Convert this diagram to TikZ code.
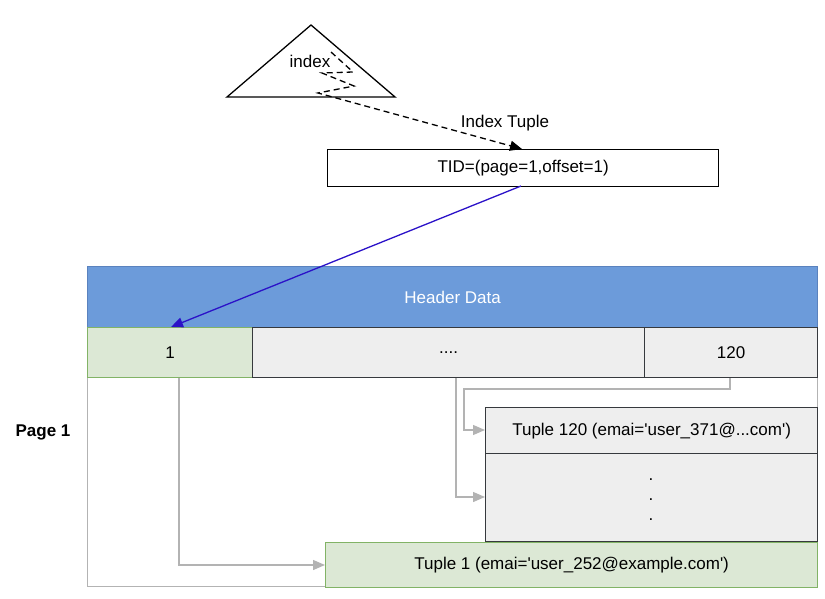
\documentclass[tikz,border=0pt]{standalone}
\usepackage{fontspec}
\setmainfont{Liberation Sans}
\usetikzlibrary{arrows.meta}
\definecolor{hdrfill}{RGB}{108,155,218}
\definecolor{hdrdraw}{RGB}{90,130,190}
\definecolor{grnfill}{RGB}{220,232,213}
\definecolor{grndraw}{RGB}{130,179,102}
\definecolor{gryfill}{RGB}{238,238,238}
\definecolor{grydraw}{RGB}{54,57,61}
\definecolor{conn}{RGB}{179,179,179}
\definecolor{bluearr}{RGB}{43,18,200}
\newcommand{\sq}{\textquotesingle}
\tikzset{
  txt/.style={font=\fontsize{17}{20}\selectfont, inner sep=0pt},
  cellbox/.style={draw, minimum width=#1, anchor=north west, inner sep=0pt, font=\fontsize{17}{20}\selectfont, line width=1.3pt},
  grncell/.style={fill=grnfill, draw=grndraw},
  grycell/.style={fill=gryfill, draw=grydraw},
  gconn/.style={draw=conn, line width=1.3pt, -{Triangle[width=10pt,length=12pt]}},
}
\begin{document}
\begin{tikzpicture}[x=1pt,y=-1pt]
\useasboundingbox (0,0) rectangle (825,599);
% index triangle
\coordinate (apex) at (311,25);
\coordinate (bl) at (227,97);
\coordinate (br) at (395,97);
\draw[line width=1.3pt] (apex) -- (bl) -- (br) -- cycle;
\node[txt] (idx) at (310,61) {index};
% TID box
\node[cellbox=391pt, minimum height=37pt, draw=black, fill=white] (tid) at (327,149) {TID=(page=1,offset=1)};
% dashed zigzag to TID
\coordinate (z0) at (331,52);
\coordinate (z1) at (353,72);
\coordinate (z2) at (322,73);
\coordinate (z3) at (354,86);
\coordinate (z4) at (318,93);
\coordinate (tidin) at (522,149);
\draw[line width=1.3pt, dash pattern=on 6pt off 4pt, -{Triangle[width=10pt,length=12pt]}] (z0) -- (z1) -- (z2) -- (z3) -- (z4) -- (tidin);
\node[txt] (itlab) at (505,123) {Index Tuple};
% page outer
\node[draw=conn, line width=1.3pt, minimum width=730pt, minimum height=320pt, anchor=north west, inner sep=0pt] (page) at (87,266) {};
% header
\node[cellbox=730pt, minimum height=61pt, fill=hdrfill, draw=hdrdraw, text=white] (hdr) at (87,266) {Header Data};
% row cells
\node[cellbox=165pt, minimum height=50pt, grncell] (c1) at (87,327) {1};
\node[cellbox=392pt, minimum height=50pt, grycell] (mid) at (252,327) {....};
\node[cellbox=173pt, minimum height=50pt, grycell] (c120) at (644,327) {120};
% tuples
\node[cellbox=332pt, minimum height=46pt, grycell] (t120) at (485,407) {Tuple 120 (emai=\sq user\_371@...com\sq)};
\node[cellbox=332pt, minimum height=88pt, grycell] (dots) at (485,453) {};
\node[txt] (d1) at (651,480) {.};
\node[txt] (d2) at (651,500) {.};
\node[txt] (d3) at (651,520) {.};
\node[cellbox=492pt, minimum height=45pt, grncell] (t1) at (325,542) {Tuple 1 (emai=\sq user\_252@example.com\sq)};
% page label
\node[txt, font=\fontsize{17}{20}\selectfont\bfseries] (plab) at (43,432) {Page 1};
% blue arrow
\coordinate (bstart) at (521,186);
\coordinate (bend) at (171,327);
\draw[draw=bluearr, line width=1.3pt, -{Triangle[width=10pt,length=12pt]}] (bstart) -- (bend);
% gray connectors
\draw[gconn] (c1.south -| 179,0) -- (179,565) -- (t1.west |- 0,565);
\draw[gconn] (mid.south -| 456,0) -- (456,497) -- (dots.west |- 0,497);
\draw[gconn] (c120.south -| 730,0) -- (730,389) -- (464,389) -- (464,430) -- (t120.west |- 0,430);
\end{tikzpicture}
\end{document}
